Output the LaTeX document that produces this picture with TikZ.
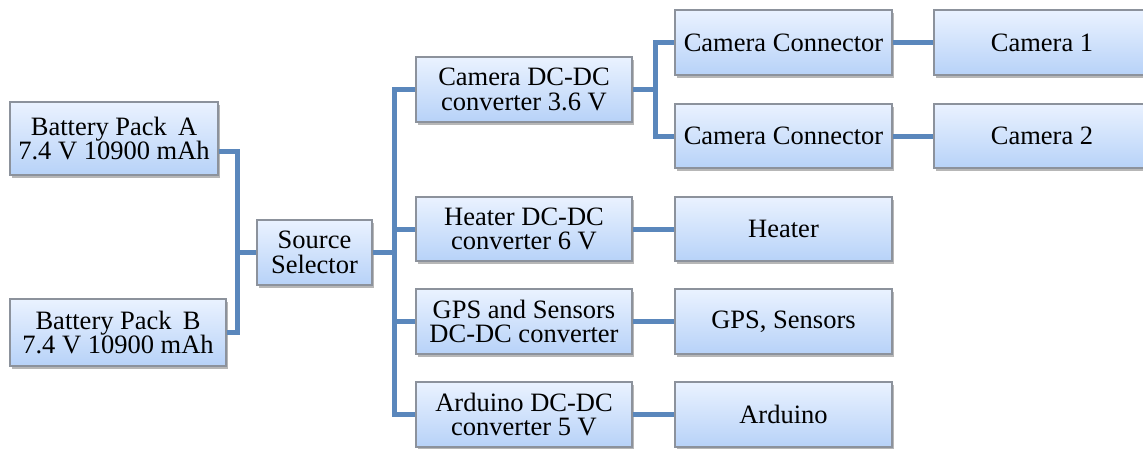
\documentclass[tikz,border=0pt]{standalone}
\usepackage{fontspec}
\setmainfont{Liberation Serif}
\usetikzlibrary{shadows,calc}
\definecolor{wire}{HTML}{5A87BC}
\definecolor{boxtop}{HTML}{EAF2FF}
\definecolor{boxbot}{HTML}{B7D2F8}
\definecolor{boxline}{HTML}{8C929C}
\tikzset{
  blk/.style={draw=boxline, line width=1.2pt, top color=boxtop, bottom color=boxbot,
    minimum height=65pt, inner sep=0pt, align=center,
    font=\fontsize{26.5}{24.5}\selectfont,
    drop shadow={shadow xshift=1.5pt, shadow yshift=-3pt, opacity=0.4, fill=black!70}},
  wirel/.style={draw=wire, line width=5pt, line join=miter},
}
\begin{document}
\begin{tikzpicture}[x=1pt,y=-1pt]
\useasboundingbox (0,0) rectangle (1143,448);
\node[blk, minimum width=208pt, minimum height=73pt] (batA) at (114,138.5) {Battery Pack\, A\\7.4 V 10900 mAh};
\node[blk, minimum width=216pt, minimum height=67pt] (batB) at (118,332.5) {Battery Pack\, B\\7.4 V 10900 mAh};
\node[blk, minimum width=115pt] (src) at (314.5,252.5) {Source\\Selector};
\node[blk, minimum width=216pt] (camdc) at (524,89.5) {Camera DC-DC\\converter 3.6 V};
\node[blk, minimum width=216pt, minimum height=64pt] (heatdc) at (524,229) {Heater DC-DC\\converter 6 V};
\node[blk, minimum width=216pt] (gpsdc) at (524,321.5) {GPS and Sensors\\DC-DC converter};
\node[blk, minimum width=216pt] (arddc) at (524,414.5) {Arduino DC-DC\\converter 5 V};
\node[blk, minimum width=217pt] (cc1) at (783.5,42.5) {Camera Connector};
\node[blk, minimum width=217pt, minimum height=64pt] (cc2) at (783.5,136) {Camera Connector};
\node[blk, minimum width=216pt] (cam1) at (1042,42.5) {Camera 1};
\node[blk, minimum width=216pt, minimum height=64pt] (cam2) at (1042,136) {Camera 2};
\node[blk, minimum width=217pt, minimum height=64pt] (heat) at (783.5,229) {Heater};
\node[blk, minimum width=217pt] (gps) at (783.5,321.5) {GPS, Sensors};
\node[blk, minimum width=217pt] (ard) at (783.5,414.5) {Arduino};
% wires
\coordinate (jl) at (237,252.5);
\coordinate (bus) at (394,252.5);
\coordinate (cs) at (655,89.5);
\draw[wirel] ([yshift=-12.5pt]batA.east) -| (jl);
\draw[wirel] (batB.east) -| (jl);
\draw[wirel] (jl) -- (src.west);
\draw[wirel] (src.east) -- (bus);
\draw[wirel] (camdc.west) -| (bus);
\draw[wirel] (arddc.west) -| (bus);
\draw[wirel] (heatdc.west) -- (heatdc.west -| bus);
\draw[wirel] (gpsdc.west) -- (gpsdc.west -| bus);
\draw[wirel] (camdc.east) -- (cs);
\draw[wirel] (cc1.west) -| (cs);
\draw[wirel] (cc2.west) -| (cs);
\draw[wirel] (cc1.east) -- (cam1.west);
\draw[wirel] (cc2.east) -- (cam2.west);
\draw[wirel] (heatdc.east) -- (heat.west);
\draw[wirel] (gpsdc.east) -- (gps.west);
\draw[wirel] (arddc.east) -- (ard.west);
\end{tikzpicture}
\end{document}
